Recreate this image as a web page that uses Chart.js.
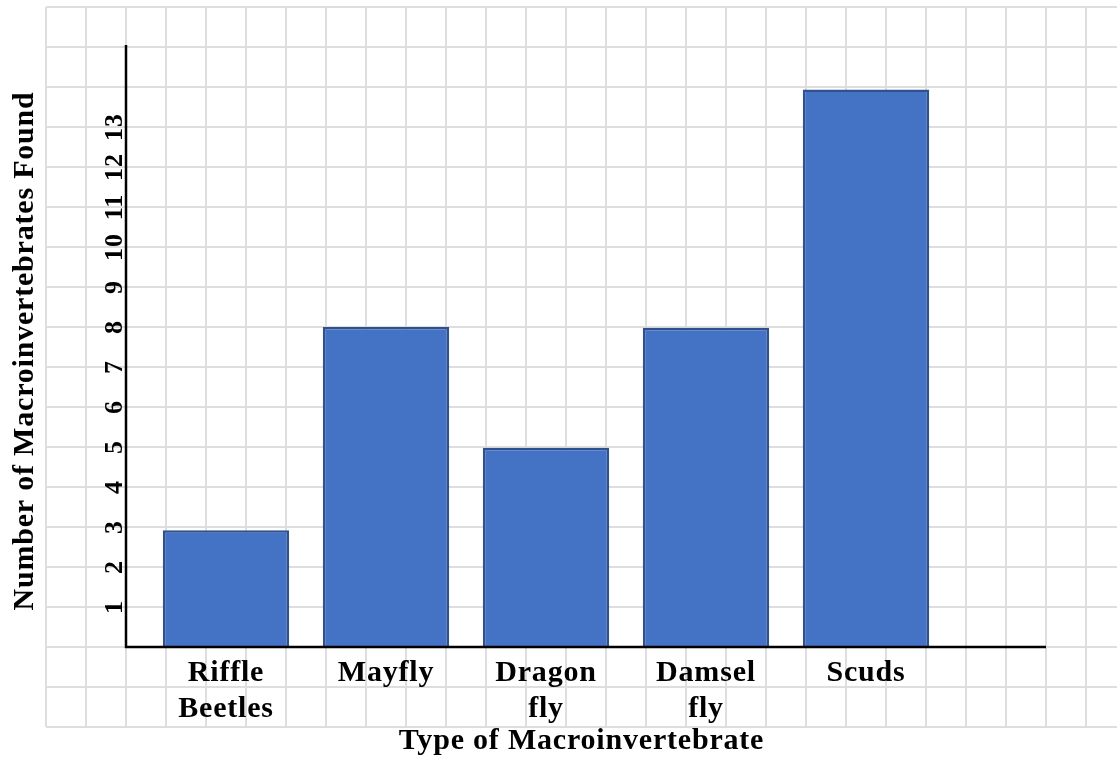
<!DOCTYPE html>
<html>
<head>
<meta charset="utf-8">
<title>Macroinvertebrates Found</title>
<script src="https://cdn.jsdelivr.net/npm/chart.js@4.4.1/dist/chart.umd.min.js"></script>
<style>
  html, body { margin: 0; padding: 0; background: #ffffff; }
  canvas { display: block; }
</style>
</head>
<body>
<canvas id="chart" width="1117" height="760"></canvas>
<script>
// Sample counts per macroinvertebrate type
const categories = [['Riffle', 'Beetles'], 'Mayfly', ['Dragon', 'fly'], ['Damsel', 'fly'], 'Scuds'];
const counts = [2.92, 8, 4.98, 7.98, 13.94];
const yTickLabels = ['1', '2', '3', '4', '5', '6', '7', '8', '9', '10', '11', '12', '13'];
const xTitle = 'Type of Macroinvertebrate';
const yTitle = 'Number of Macroinvertebrates Found';

const FONT_FAMILY = '"Liberation Serif", "Times New Roman", serif';

// Graph-paper background, hand-drawn style axes and all labels, laid out from the scales
const graphPaper = {
  id: 'graphPaper',
  frame(chart) {
    const { x, y } = chart.scales;
    const unit = y.getPixelForValue(0) - y.getPixelForValue(1);
    const originX = x.left - unit / 2;
    const originY = y.getPixelForValue(0);
    return {
      unit, originX, originY,
      left: originX - 2 * unit,
      right: originX + 24 * unit,
      top: originY - 16 * unit,
      bottom: originY + 2 * unit
    };
  },
  beforeDraw(chart) {
    const ctx = chart.ctx;
    const f = this.frame(chart);
    ctx.save();
    ctx.fillStyle = '#ffffff';
    ctx.fillRect(0, 0, chart.width, chart.height);
    ctx.strokeStyle = '#dedede';
    ctx.lineWidth = 2;
    ctx.beginPath();
    for (let gx = f.left; gx <= f.right + 0.5; gx += f.unit) {
      ctx.moveTo(gx, f.top);
      ctx.lineTo(gx, f.bottom);
    }
    for (let gy = f.top; gy <= f.bottom + 0.5; gy += f.unit) {
      ctx.moveTo(f.left, gy);
      ctx.lineTo(chart.width, gy);
    }
    ctx.stroke();
    ctx.restore();
  },
  afterDatasetsDraw(chart) {
    const ctx = chart.ctx;
    const { x, y } = chart.scales;
    const f = this.frame(chart);

    // axes
    ctx.save();
    ctx.strokeStyle = '#000000';
    ctx.lineWidth = 2.5;
    ctx.beginPath();
    ctx.moveTo(f.originX, y.top - 2);
    ctx.lineTo(f.originX, f.originY + 1);
    ctx.moveTo(f.originX - 1, f.originY);
    ctx.lineTo(f.originX + 23 * f.unit, f.originY);
    ctx.stroke();
    ctx.restore();

    ctx.save();
    ctx.fillStyle = '#000000';
    if ('letterSpacing' in ctx) ctx.letterSpacing = '0.8px';

    // category labels
    ctx.font = 'bold 30px ' + FONT_FAMILY;
    ctx.textAlign = 'center';
    ctx.textBaseline = 'alphabetic';
    categories.forEach((c, i) => {
      const lines = Array.isArray(c) ? c : [c];
      const cx = x.getPixelForValue(i);
      lines.forEach((t, j) => ctx.fillText(t, cx, f.originY + 34 + j * 36));
    });

    // x title
    ctx.fillText(xTitle, (f.left + chart.width) / 2, f.originY + 102);

    // y title, rotated
    ctx.save();
    ctx.font = 'bold 30px ' + FONT_FAMILY;
    ctx.translate(f.originX - 93, (y.top + y.bottom) / 2 + 4);
    ctx.rotate(-Math.PI / 2);
    ctx.fillText(yTitle, 0, 0);
    ctx.restore();

    // y tick labels, rotated
    ctx.font = 'bold 26px ' + FONT_FAMILY;
    ctx.letterSpacing = '1px';
    yTickLabels.forEach(lbl => {
      ctx.save();
      ctx.translate(f.originX - 4, y.getPixelForValue(Number(lbl)));
      ctx.rotate(-Math.PI / 2);
      ctx.fillText(lbl, 0, 0);
      ctx.restore();
    });
    ctx.restore();
  }
};

new Chart(document.getElementById('chart'), {
  type: 'bar',
  data: {
    labels: categories,
    datasets: [{
      data: counts,
      backgroundColor: '#4472C4',
      borderColor: '#2F528F',
      borderWidth: 2.5,
      barPercentage: 0.79,
      categoryPercentage: 1
    }]
  },
  options: {
    responsive: false,
    animation: false,
    devicePixelRatio: 1,
    layout: { padding: { left: 146, right: 171, top: 47, bottom: 113 } },
    scales: {
      x: { display: false, offset: true },
      y: { display: false, min: 0, max: 15 }
    },
    plugins: {
      legend: { display: false },
      tooltip: { enabled: false }
    }
  },
  plugins: [graphPaper]
});
</script>
</body>
</html>
